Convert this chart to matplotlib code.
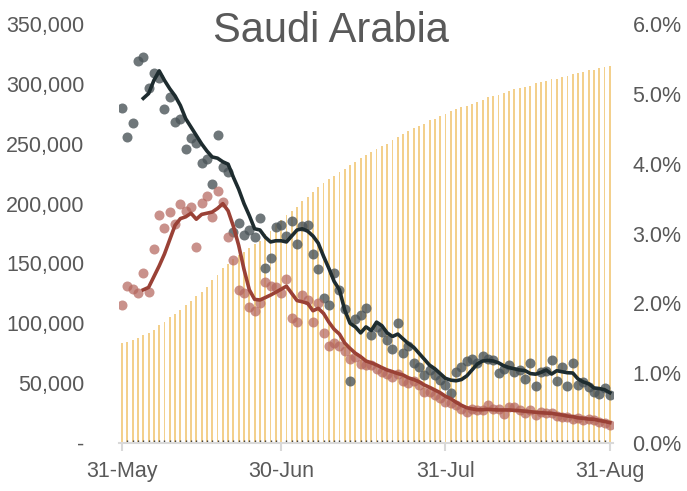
import numpy as np
import pandas as pd
import matplotlib
matplotlib.use("Agg")
import matplotlib.pyplot as plt
import matplotlib.dates as mdates
from matplotlib.ticker import FuncFormatter

plt.rcParams['font.family'] = ['Liberation Sans', 'DejaVu Sans']

# daily dates, 31-May to 31-Aug
dates = pd.date_range('2020-05-31', '2020-08-31', freq='D')

# grey dots (daily values, left axis)
grey_pts = [279800, 255600, 267300, 319300, 322700, 296500, 309600, 305000, 279000, 289300,
            268400, 270900, 245300, 255000, 250300, 234100, 237000, 216300, 257000, 230800,
            226600, 176000, 184000, 173700, 177900, 172300, 187700, 146400, 154300, 180200,
            182100, 172900, 185400, 166200, 181300, 182100, 157900, 145100, 121500, 115700,
            141700, 128000, 111700, 52000, 103300, 106900, 112500, 90200, 96600, 93000,
            86300, 78300, 100000, 75400, 80700, 67100, 63700, 56800, 61000, 56400,
            53000, 48400, 42000, 59600, 63700, 68700, 69900, 67000, 72700, 69900,
            69300, 58200, 61600, 65200, 59600, 61000, 53200, 67100, 47600, 59600,
            60400, 69300, 52000, 63200, 47600, 67100, 48400, 51200, 46500, 42800,
            40900, 45700, 40100]

# red dots (daily values, left axis)
red_pts = [115300, 131100, 128400, 125000, 142300, 126100, 162000, 190400, 179300, 193000,
           182700, 199600, 194000, 197400, 163500, 200200, 206300, 188500, 210500, 201000,
           171800, 152900, 127800, 125000, 113400, 110500, 117200, 134700, 131100, 130100,
           125000, 137000, 104200, 101300, 123600, 119400, 101300, 117000, 92100, 81000,
           83800, 81000, 76500, 69900, 72100, 66000, 65200, 65500, 62000, 59600,
           58000, 55400, 57500, 52000, 50400, 51600, 48400, 42800, 42800, 40500,
           37300, 34000, 33500, 32000, 28000, 26000, 28100, 27300, 27600, 31700,
           28100, 28100, 24200, 29800, 30300, 27600, 25300, 27600, 23400, 26100,
           24800, 24800, 22600, 21500, 21500, 19800, 20600, 19200, 19800, 19200,
           17800, 17000, 15000]

# smoothed lines, starting 4-Jun
grey_line = [np.nan] * 4 + [
    288000, 292000, 303000, 311000, 303000, 296000, 290000, 282000, 271000, 264000,
    257000, 250000, 244000, 239000, 238000, 235000, 233000, 222000, 212000, 200000,
    190000, 179000, 178000, 172000, 168000, 169000, 169000, 168000, 173000, 178000,
    179000, 177000, 173000, 167000, 156000, 146000, 135000, 128000, 111000, 100000,
    97000, 92000, 97000, 94000, 101000, 98000, 92000, 89000, 91000, 87000,
    83000, 80000, 75000, 70000, 65000, 62000, 58000, 54000, 52500, 52000,
    53000, 56000, 61000, 66000, 68500, 69000, 68500, 67000, 64500, 63000,
    62000, 61000, 60500, 58000, 57500, 59000, 61000, 57600, 60400, 59500,
    58700, 58500, 53500, 51000, 49500, 46000, 45500, 44500, 42000]

red_line = [np.nan] * 4 + [
    128000, 130000, 139000, 148000, 158000, 170000, 182000, 187500, 189000, 192000,
    187000, 191000, 192000, 193000, 196000, 200000, 194000, 181000, 165000, 145000,
    128000, 120000, 119500, 121500, 123600, 126000, 128500, 131000, 125000, 119000,
    118000, 116700, 110500, 112500, 108300, 101000, 95000, 91000, 83500, 79000,
    75000, 72100, 68500, 67000, 65200, 63000, 61000, 59600, 58000, 56800,
    54500, 53000, 51200, 48500, 46500, 44300, 42000, 39000, 37000, 34000,
    31500, 29500, 28500, 27800, 27800, 28100, 27800, 27600, 27600, 27600,
    27300, 27000, 26500, 26100, 25700, 25300, 25000, 24800, 24000, 23400,
    22500, 22000, 21000, 20600, 20000, 19800, 18800, 18000, 17000]

# cumulative share (right axis, %)
share_pct = [1.43, 1.45, 1.47, 1.51, 1.54, 1.57, 1.62, 1.69, 1.73, 1.80,
             1.85, 1.91, 1.97, 2.04, 2.10, 2.16, 2.23, 2.33, 2.40, 2.50,
             2.57, 2.64, 2.69, 2.73, 2.80, 2.85, 2.90, 3.00, 3.04, 3.14,
             3.19, 3.26, 3.32, 3.38, 3.46, 3.53, 3.59, 3.66, 3.72, 3.78,
             3.82, 3.88, 3.93, 3.98, 4.03, 4.08, 4.12, 4.17, 4.21, 4.25,
             4.29, 4.34, 4.38, 4.43, 4.47, 4.51, 4.54, 4.57, 4.62, 4.64,
             4.69, 4.72, 4.76, 4.78, 4.81, 4.83, 4.85, 4.89, 4.91, 4.95,
             4.97, 4.99, 5.02, 5.04, 5.07, 5.08, 5.10, 5.12, 5.15, 5.17,
             5.19, 5.21, 5.22, 5.25, 5.26, 5.28, 5.30, 5.32, 5.34, 5.35,
             5.37, 5.39, 5.40]

tick_dates = pd.to_datetime(['2020-05-31', '2020-06-30', '2020-07-31', '2020-08-31'])

text_col = '#595959'

fig = plt.figure(figsize=(6.87, 4.91), dpi=100)
ax = fig.add_axes([0.1732, 0.0978, 0.719, 0.853])
ax2 = ax.twinx()

# yellow bars on the right axis
ax2.bar(dates, share_pct, width=0.35, color='#F2C878', alpha=0.85, linewidth=0)
ax2.set_ylim(0, 6)
ax2.yaxis.set_major_formatter(FuncFormatter(lambda v, p: f'{v:.1f}%'))
ax2.set_yticks(np.arange(0, 6.1, 1))

# dots and lines on the left axis
ax.set_zorder(ax2.get_zorder() + 1)
ax.patch.set_visible(False)
ax.scatter(dates, grey_pts, s=52, color='#4B5559', alpha=0.8, linewidths=0, zorder=3)
ax.scatter(dates, red_pts, s=52, color='#B5675E', alpha=0.72, linewidths=0, zorder=3)
ax.plot(dates, grey_line, color='#1E2C2F', lw=2.6, zorder=4)
ax.plot(dates, red_line, color='#9A4136', lw=2.6, zorder=4)

ax.set_ylim(0, 350000)
ax.set_yticks(np.arange(0, 350001, 50000))
ax.yaxis.set_major_formatter(FuncFormatter(lambda v, p: '-' if v == 0 else f'{v:,.0f}'))
ax.set_xlim(dates[0] - pd.Timedelta(hours=14), dates[-1] + pd.Timedelta(hours=14))

ax.set_xticks(tick_dates)
ax.xaxis.set_major_formatter(mdates.DateFormatter('%d-%b'))
ax.xaxis.set_minor_locator(mdates.DayLocator())

for a in (ax, ax2):
    for s in ('top', 'left', 'right', 'bottom'):
        a.spines[s].set_visible(False)
ax.spines['bottom'].set_visible(True)
ax.spines['bottom'].set_color('#D9D9D9')
ax.spines['bottom'].set_linewidth(1.5)

ax.tick_params(axis='y', length=0, pad=25, labelsize=15.5, labelcolor=text_col)
ax2.tick_params(axis='y', length=0, pad=14, labelsize=15.5, labelcolor=text_col)
ax.tick_params(axis='x', which='major', length=6, width=1.5, color='#D9D9D9',
               pad=7, labelsize=15.5, labelcolor=text_col)
ax.tick_params(axis='x', which='minor', direction='in', length=2, width=1, color='#404040')

fig.text(0.482, 0.936, 'Saudi Arabia', ha='center', va='center', fontsize=30, color=text_col)

fig.savefig('out.png', dpi=100)
